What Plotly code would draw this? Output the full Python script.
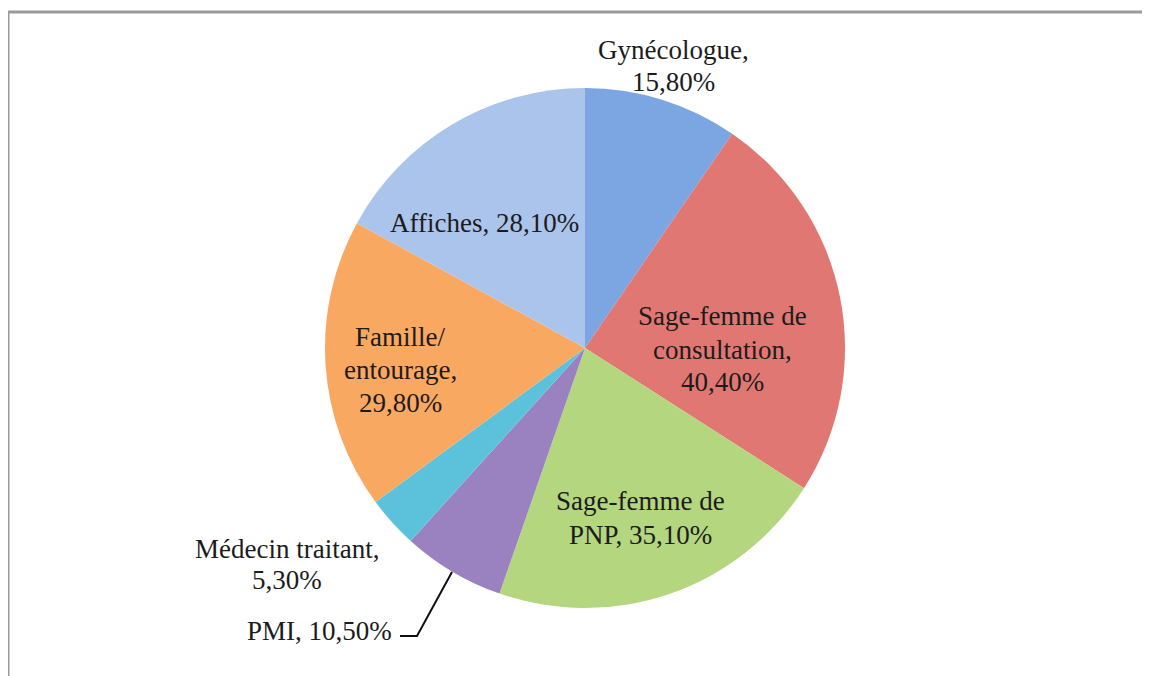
import plotly.graph_objects as go

W, H = 1150, 676
OFF = 8  # page body margin offset

labels = ["Gynécologue", "Sage-femme de consultation", "Sage-femme de PNP", "PMI",
          "Médecin traitant", "Famille/entourage", "Affiches"]
values = [15.8, 40.4, 35.1, 10.5, 5.3, 29.8, 28.1]
colors = ["#7ca6e1", "#e17772", "#b4d67e", "#9a82c0", "#5cc2dc", "#f9a862", "#aac4ec"]

# displayed label texts, one entry per line ({v} = value)
label_lines = [["Gynécologue,", "{v}"], ["Sage-femme de", "consultation,", "{v}"],
               ["Sage-femme de", "PNP, {v}"], ["PMI, {v}"], ["Médecin traitant,", "{v}"],
               ["Famille/", "entourage,", "{v}"], ["Affiches, {v}"]]

def fmt(v):
    return ("%.2f" % v).replace(".", ",") + "%"

# label anchor positions in pixels (x, line center ys, xanchor)
label_pos = [(673, [50, 82], "center"), (722, [316, 350, 382], "center"), (640, [501, 535], "center"),
             (394, [631], "right"), (287, [549, 580], "center"), (400, [337, 370, 403], "center"),
             (484, [223], "center")]

def px(x):
    return (x - OFF) / W

def py(y):
    return 1 - (y - OFF) / H

fig = go.Figure(go.Pie(
    labels=labels, values=values, sort=False, direction="clockwise", rotation=0,
    marker=dict(colors=colors, line=dict(width=0)),
    textinfo="none", hoverinfo="label+value",
    domain=dict(x=[px(325), px(845)], y=[py(608), py(88)]),
    showlegend=False,
))

font = dict(family="Liberation Serif, DejaVu Serif, serif", size=27, color="#1c1c1c")
annotations = []
for lines, v, (x, ys, xa) in zip(label_lines, values, label_pos):
    for line, y in zip(lines, ys):
        annotations.append(dict(text=line.format(v=fmt(v)), x=px(x), y=py(y), xref="paper", yref="paper",
                                xanchor=xa, yanchor="middle", showarrow=False, font=font))

shapes = [
    dict(type="line", xref="paper", yref="paper", x0=px(7), x1=1, y0=py(12), y1=py(12),
         line=dict(color="#9a9a9a", width=3)),
    dict(type="line", xref="paper", yref="paper", x0=px(8), x1=px(8), y0=py(11), y1=0,
         line=dict(color="#9a9a9a", width=3)),
    dict(type="path", xref="paper", yref="paper",
         path="M %f %f L %f %f L %f %f" % (px(400), py(636), px(417), py(636), px(452), py(572)),
         line=dict(color="#111111", width=2)),
]

fig.update_layout(width=W, height=H, margin=dict(l=0, r=0, t=0, b=0),
                  paper_bgcolor="white", plot_bgcolor="white",
                  annotations=annotations, shapes=shapes)

fig.write_html("out.html")
